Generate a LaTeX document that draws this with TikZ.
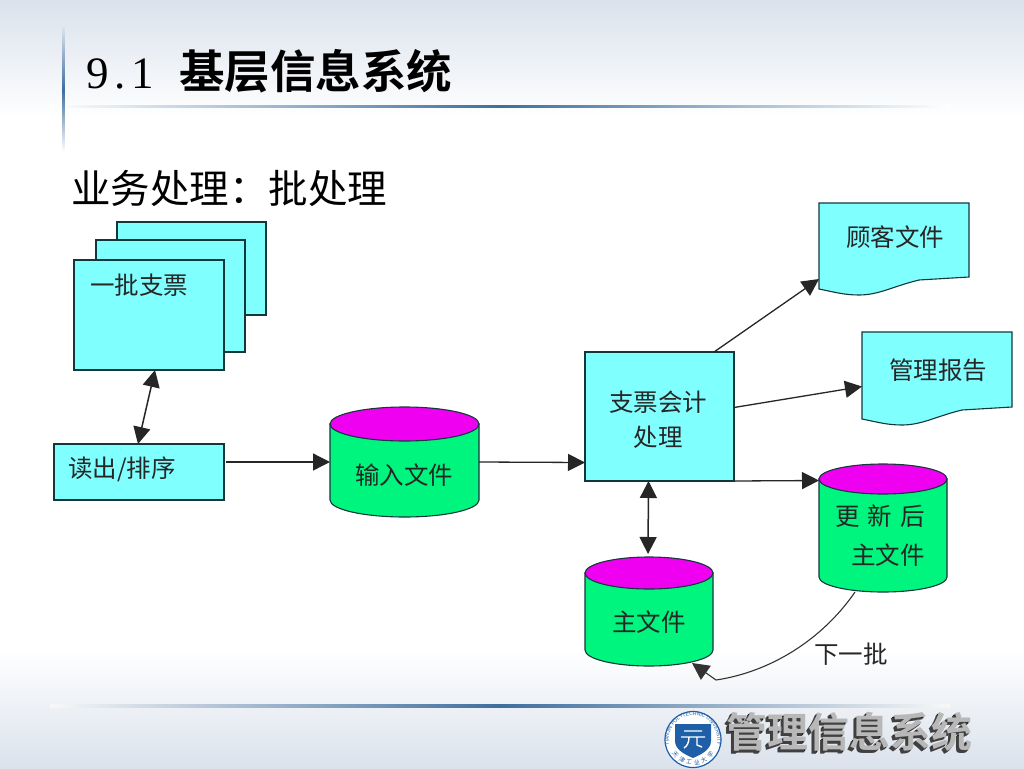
\documentclass[tikz,border=0pt]{standalone}
\usepackage{fontspec}
\setmainfont{Liberation Serif}
\newfontfamily\cjk{Noto Sans CJK SC}
\newfontfamily\cjkb{Noto Sans CJK SC Bold}
\newfontfamily\latinsans{Liberation Sans}
\usetikzlibrary{arrows.meta,calc,decorations.text}
\definecolor{boxcyan}{HTML}{80FFFF}
\definecolor{cylgreen}{HTML}{00F57F}
\definecolor{cylmag}{HTML}{F000F0}
\definecolor{bgblue}{HTML}{DAE2EC}
\definecolor{rulecol}{HTML}{3F6E9E}
\definecolor{outline}{HTML}{12383C}
\definecolor{logoblue}{HTML}{1F5FA8}
\tikzset{
  x=1pt,y=-1pt,
  shapebox/.style={draw=outline,line width=1.1pt,fill=boxcyan},
  anchorbox/.style={rectangle,inner sep=0pt,outer sep=0pt},
  lab/.style={font=\cjk\fontsize{24.5}{26}\selectfont,text=black!85,inner sep=0pt},
  conn/.style={line width=1.3pt,draw=black!85,-{Triangle[length=17pt,width=17pt]}},
  biconn/.style={line width=1.5pt,draw=black!85,{Triangle[length=17pt,width=17pt]}-{Triangle[length=17pt,width=17pt]}},
}
% name, left, right, top(ellipse centre), side bottom, ry
\newcommand{\dbcyl}[6]{%
  \path[draw=outline,line width=1.1pt,fill=cylgreen] (#2,#4) -- (#2,#5)
     arc[start angle=180,end angle=360,x radius={(#3-#2)/2*1pt},y radius=#6pt] -- (#3,#4) -- cycle;
  \path[draw=outline,line width=1.1pt,fill=cylmag] ({(#2+#3)/2},#4) ellipse[x radius={(#3-#2)/2*1pt},y radius=#6pt];
  \node[anchorbox,minimum width={(#3-#2)*1pt},minimum height={(#5-#4+2*#6)*1pt}] (#1) at ({(#2+#3)/2},{(#4+#5)/2}) {};
}
% name, left, right, top, right-bottom
\newcommand{\docshape}[5]{%
  \path[shapebox] (#2,#4) -- (#3,#4) -- (#3,#5) -- ({#3-50},{#5+3})
    .. controls ({#3-75},{#5+9}) and ({#3-90},{#5+18}) .. ({#3-110},{#5+18})
    .. controls ({#3-125},{#5+18}) and ({#3-135},{#5+15}) .. (#2,{#5+12}) -- cycle;
  \node[anchorbox,minimum width={(#3-#2)*1pt},minimum height={(#5+18-#4)*1pt}] (#1) at ({(#2+#3)/2},{(#4+#5+18)/2}) {};
}
\begin{document}
\begin{tikzpicture}
\useasboundingbox (0,0) rectangle (1024,768);
% background
\fill[white] (0,0) rectangle (1024,768);
\shade[top color=bgblue,bottom color=white] (0,0) rectangle (1024,118);
\shade[top color=white,bottom color=bgblue] (0,650) rectangle (1024,768);
% rules
\shade[left color=white,right color=white,middle color=rulecol] (50,105) rectangle (950,107.5);
\shade[left color=black!3,right color=black!3,middle color=rulecol] (50,704) rectangle (950,707);
\shade[top color=bgblue,bottom color=white,middle color=rulecol] (62,28) rectangle (64.5,152);
% titles
\node[anchor=base west,inner sep=0pt,font=\fontsize{45}{47}\selectfont] (secnum) at (86,88) {9\makebox[22.5pt]{.}1};
\node[anchor=base west,inner sep=0pt,font=\cjkb\fontsize{45.5}{47}\selectfont] (title) at (179,88) {基层信息系统};
\node[anchor=base west,inner sep=0pt,font=\cjk\fontsize{39.5}{42}\selectfont] (subtitle) at (71,203) {业务处理：批处理};
% stacked cheques
\node[anchorbox,shapebox,minimum width=149pt,minimum height=93pt] (back) at (191.5,268.5) {};
\node[anchorbox,shapebox,minimum width=149pt,minimum height=112pt] (mid) at (170.5,296) {};
\node[anchorbox,shapebox,minimum width=150pt,minimum height=110pt] (front) at (149,315) {};
\node[lab] (frontlab) at (139,285) {一批支票};
% read/sort
\node[anchorbox,shapebox,minimum width=170pt,minimum height=56pt] (read) at (139,472) {};
\node[lab] (readlab) at (122,469) {读出/排序};
% cylinders
\dbcyl{input}{330}{479}{424}{500}{17}
\node[lab] (inputlab) at (404,475) {输入文件};
\dbcyl{update}{819}{947}{479}{577}{15}
\node[lab] (updatelab) at (880,516) {更\,\,新\,\,后};
\node[lab] (updatelabb) at (888,555) {主文件};
\dbcyl{master}{585}{713}{573}{650}{16}
\node[lab] (masterlab) at (649,622) {主文件};
% process
\node[anchorbox,shapebox,minimum width=149pt,minimum height=129pt] (proc) at (659.5,416.5) {};
\node[lab] (proclab) at (658,402) {支票会计};
\node[lab] (proclabb) at (658,437) {处理};
% documents
\docshape{customer}{819}{969}{203}{277}
\node[lab] (customerlab) at (895,237) {顾客文件};
\docshape{report}{862}{1012}{332}{407}
\node[lab] (reportlab) at (938,370) {管理报告};
% connectors
\draw[biconn] ([xshift=6pt]front.south) -- ([xshift=-1pt]read.north);
\draw[conn] ([xshift=2pt,yshift=10pt]read.east) -- (input.west);
\draw[conn] (input.east) -- ([yshift=-46pt]proc.west);
\draw[conn] ([xshift=54.5pt]proc.north) -- ([yshift=-30pt]customer.west);
\draw[conn] ([yshift=9pt]proc.east) -- ([yshift=-8pt]report.west);
\draw[conn] (proc.south east) -- ([yshift=47.5pt]update.west);
\draw[biconn] ([xshift=-11pt]proc.south) -- ([xshift=-1pt,yshift=3pt]master.north);
\draw[line width=1.1pt,draw=black!80,-{Triangle[length=17pt,width=17pt]}] ([xshift=-28pt]update.south)
  .. controls (822,640) and (770,672) .. (716,680) -- ([xshift=43pt,yshift=3pt]master.south);
\node[lab] (nextlab) at (851,654) {下一批};
% logo
\node[circle,draw=logoblue,line width=1.2pt,fill=white,minimum size=56pt,inner sep=0pt] (logo) at (693,739.5) {};
\path[postaction={decorate},decoration={text along path,text align=center,text color=logoblue,
   text={|\latinsans\fontsize{5}{5}\selectfont|TIANJIN POLYTECHNIC UNIVERSITY}}]
   ($(logo.center)+(-23,8)$) arc[start angle=199,end angle=-19,radius=24.3pt];
\foreach \ch/\ang in {天/-140,津/-118,工/-100,业/-80,大/-62,学/-40}{
  \path (logo.center) ++(\ang:23pt) node[rotate={\ang+90},inner sep=0pt,text=logoblue,font=\cjk\fontsize{6}{6}\selectfont] {\ch};
}
\fill[logoblue] (675,724) -- (711,724) -- (711,741) .. controls (711,750) and (700,755) .. (693,758)
   .. controls (686,755) and (675,750) .. (675,741) -- cycle;
\draw[white,line width=1.4pt] (684,731) -- (702,731) (681,737) -- (705,737) (689,737) .. controls (689,743) and (687,746) .. (684,748)
   (697,737) -- (697,745) -- (702,747);
% extruded title
\foreach \i/\c in {3/black!45,2/black!90,1/black!75}{
  \node[inner sep=0pt,text=\c,font=\cjkb\fontsize{41}{43}\selectfont] at ({845+\i*1.2},{736-\i*1}) {管理信息系统};
}
\node[inner sep=0pt,text=black!28,font=\cjkb\fontsize{41}{43}\selectfont] (brand) at (849.5,732) {管理信息系统};
\end{tikzpicture}
\end{document}
